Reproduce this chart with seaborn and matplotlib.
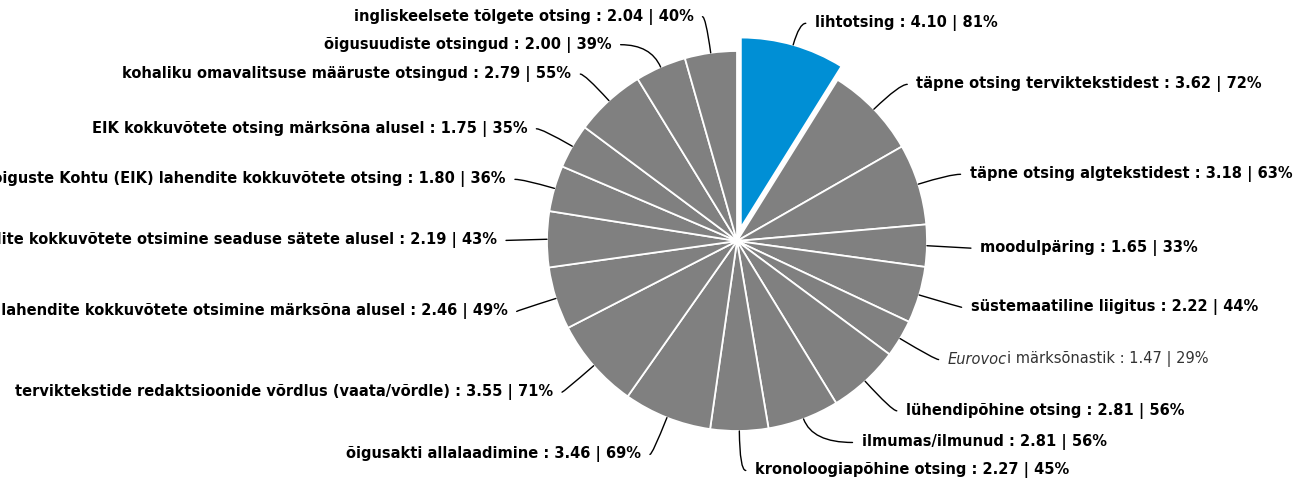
import numpy as np
import matplotlib
matplotlib.use("Agg")
import matplotlib.pyplot as plt
import seaborn as sns

# ---------------- data ----------------
categories = [
    "lihtotsing",
    "täpne otsing terviktekstidest",
    "täpne otsing algtekstidest",
    "moodulpäring",
    "süstemaatiline liigitus",
    "Eurovoci märksõnastik",
    "lühendipõhine otsing",
    "ilmumas/ilmunud",
    "kronoloogiapõhine otsing",
    "õigusakti allalaadimine",
    "terviktekstide redaktsioonide võrdlus (vaata/võrdle)",
    "Riigikohtu lahendite kokkuvõtete otsimine märksõna alusel",
    "Riigikohtu lahendite kokkuvõtete otsimine seaduse sätete alusel",
    "Euroopa Inimõiguste Kohtu (EIK) lahendite kokkuvõtete otsing",
    "EIK kokkuvõtete otsing märksõna alusel",
    "kohaliku omavalitsuse määruste otsingud",
    "õigusuudiste otsingud",
    "ingliskeelsete tõlgete otsing",
]
values = [4.10, 3.62, 3.18, 1.65, 2.22, 1.47, 2.81, 2.81, 2.27,
          3.46, 3.55, 2.46, 2.19, 1.80, 1.75, 2.79, 2.00, 2.04]
percents = [81, 72, 63, 33, 44, 29, 56, 56, 45,
            69, 71, 49, 43, 36, 35, 55, 39, 40]
highlighted = "lihtotsing"
plain_label = "Eurovoci märksõnastik"   # drawn in normal weight
italic_part = "Eurovoc"                 # italic prefix of that label

# ---------------- style ----------------
sns.set_theme(style="white")
plt.rcParams["font.family"] = ["DejaVu Sans"]

W, H, DPI = 1296, 479, 100
R_PX = 190.0
CX, CY = 737.0, 241.0
FS = 10.5

BLUE = "#008FD5"
GREY = "#808080"
palette = sns.color_palette([BLUE, GREY])
colors = [palette[0] if c == highlighted else palette[1] for c in categories]
explode = [14 / R_PX if c == highlighted else 0 for c in categories]

fig = plt.figure(figsize=(W / DPI, H / DPI), dpi=DPI)
fig.patch.set_facecolor("white")
ax = fig.add_axes([0, 0, 1, 1])

wedges, _ = ax.pie(values, colors=colors, explode=explode, startangle=90,
                   counterclock=False, radius=1.0,
                   wedgeprops=dict(edgecolor="white", linewidth=1.3))
ax.set_xlim(-CX / R_PX, (W - CX) / R_PX)
ax.set_ylim(-(H - CY) / R_PX, CY / R_PX)
ax.set_aspect("equal", adjustable="box")
ax.axis("off")

# ---------------- labels ----------------
R_LAB = 1.2
GAP = 28 / R_PX
END_R = 6 / R_PX    # connector end beyond label circle (right side)
END_L = 3 / R_PX    # (left side)
PAD = 9 / R_PX
DY = -1.5 / R_PX

items = []
for i, w in enumerate(wedges):
    mid = np.deg2rad((w.theta1 + w.theta2) / 2.0)
    cx, cy = w.center
    anchor = (cx + w.r * np.cos(mid), cy + w.r * np.sin(mid))
    side = 1 if np.cos(mid) >= 0 else -1
    items.append(dict(i=i, mid=mid, anchor=anchor, side=side,
                      y=R_LAB * np.sin(mid)))

# resolve overlaps: right side pushes upward from bottom, left side downward from top
right = sorted([d for d in items if d["side"] > 0], key=lambda d: d["y"])
for a, b in zip(right[:-1], right[1:]):
    if b["y"] < a["y"] + GAP:
        b["y"] = a["y"] + GAP
left = sorted([d for d in items if d["side"] < 0], key=lambda d: -d["y"])
for a, b in zip(left[:-1], left[1:]):
    if b["y"] > a["y"] - GAP:
        b["y"] = a["y"] - GAP

for d in items:
    i = d["i"]
    side = d["side"]
    y = d["y"] + DY
    extra = END_R if side > 0 else END_L
    x = side * (np.sqrt(max(R_LAB ** 2 - d["y"] ** 2, 0.0)) + extra)
    ax_, ay_ = d["anchor"]
    mid_deg = np.rad2deg(d["mid"])
    if abs(np.sin(d["mid"])) < 0.12:
        cs = "arc3,rad=0"
    else:
        cs = f"angle3,angleA=0,angleB={mid_deg:.3f}"
    ax.annotate("", xy=(ax_, ay_), xytext=(x, y),
                arrowprops=dict(arrowstyle="-", connectionstyle=cs,
                                color="black", lw=1.0,
                                shrinkA=0, shrinkB=0))
    tx = x + side * PAD
    ha = "left" if side > 0 else "right"
    cat = categories[i]
    tail = f" : {values[i]:.2f} | {percents[i]}%"
    if cat == plain_label:
        t1 = ax.text(tx, y, italic_part, ha=ha, va="center", fontsize=FS,
                     style="italic", color="#333333")
        ax.annotate(cat[len(italic_part):] + tail, xy=(1, 0), xycoords=t1,
                    ha="left", va="bottom", fontsize=FS, color="#333333")
    else:
        ax.text(tx, y, cat + tail, ha=ha, va="center", fontsize=FS,
                fontweight="bold", color="black")

fig.savefig("out.png", dpi=DPI, facecolor="white")
